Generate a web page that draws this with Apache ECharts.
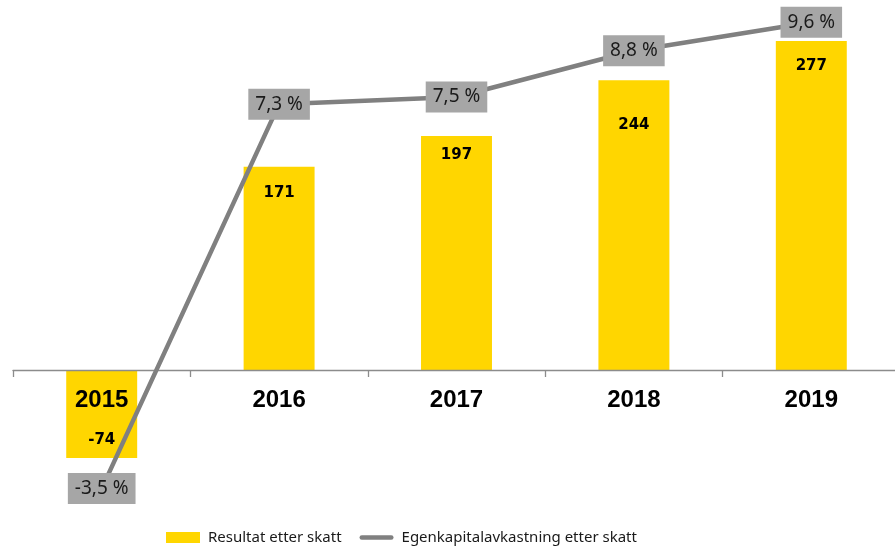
<!DOCTYPE html>
<html>
<head>
<meta charset="utf-8">
<script src="https://cdn.jsdelivr.net/npm/echarts@6/dist/echarts.min.js"></script>
<style>html,body{margin:0;padding:0;background:#fff;}#c{width:895px;height:546px;}</style>
</head>
<body>
<div id="c"></div>
<script>
var years = ['2015', '2016', '2017', '2018', '2019'];
var resultat = [-74, 171, 197, 244, 277];
var egenkapital = [-3.5, 7.3, 7.5, 8.8, 9.6];
var barName = 'Resultat etter skatt';
var lineName = 'Egenkapitalavkastning etter skatt';

// label placement (style only)
var barLabelPos = ['insideBottom', 'insideTop', 'insideTop', 'insideTop', 'insideTop'];
var barLabelDist = [10, 19, 12, 37, 18];

var chart = echarts.init(document.getElementById('c'));
chart.setOption({
  animation: false,
  grid: { left: 13, right: -5, top: 13.6, height: 499, containLabel: false, outerBoundsMode: 'none' },
  legend: {
    left: 161, top: 525,
    itemWidth: 34, itemHeight: 11, itemGap: 18,
    textStyle: { fontFamily: 'Noto Sans', fontSize: 15, color: '#1a1a1a', padding: [0, 0, 0, 3] },
    data: [
      { name: barName, icon: 'rect' },
      { name: lineName, icon: 'path://M2,0 H35 A2.5,2.5 0 0 1 35,5 H2 A2.5,2.5 0 0 1 2,0 Z' }
    ]
  },
  xAxis: [
    {
      type: 'category', data: years, z: 5,
      axisLine: { onZero: true, lineStyle: { color: '#8c8c8c', width: 1.3 } },
      axisTick: { show: true, length: 7, lineStyle: { color: '#8c8c8c', width: 1.3 } },
      axisLabel: { show: false }
    },
    {
      type: 'category', data: years, z: 5, position: 'bottom', offset: -142.6,
      axisLine: { show: false, onZero: false },
      axisTick: { show: false },
      axisLabel: { margin: 18, fontFamily: 'Liberation Sans', fontWeight: 'bold', fontSize: 24, color: '#000' }
    }
  ],
  yAxis: [
    { type: 'value', min: -120, max: 300, show: false, splitLine: { show: false } },
    { type: 'value', min: -4.174, max: 9.843, show: false, splitLine: { show: false } }
  ],
  series: [
    {
      name: barName, type: 'bar', barWidth: '40%', z: 2,
      itemStyle: { color: '#FFD600' },
      data: resultat.map(function (v, i) {
        return {
          value: v,
          label: {
            show: true, position: barLabelPos[i], distance: barLabelDist[i],
            fontFamily: 'DejaVu Sans', fontWeight: 'bold', fontSize: 15, color: '#000'
          }
        };
      })
    },
    {
      name: lineName, type: 'line', yAxisIndex: 1, z: 6,
      showSymbol: true, symbol: 'circle', symbolSize: 0,
      lineStyle: { color: '#808080', width: 4.5 },
      itemStyle: { color: '#808080' },
      label: {
        show: true, position: 'inside',
        formatter: function (p) { return String(p.value).replace('.', ',') + ' %'; },
        backgroundColor: '#A6A6A6', color: '#1a1a1a',
        fontFamily: 'Noto Sans', fontSize: 19, lineHeight: 20,
        padding: [5, 7, 6, 7]
      },
      data: egenkapital
    }
  ]
});
</script>
</body>
</html>
